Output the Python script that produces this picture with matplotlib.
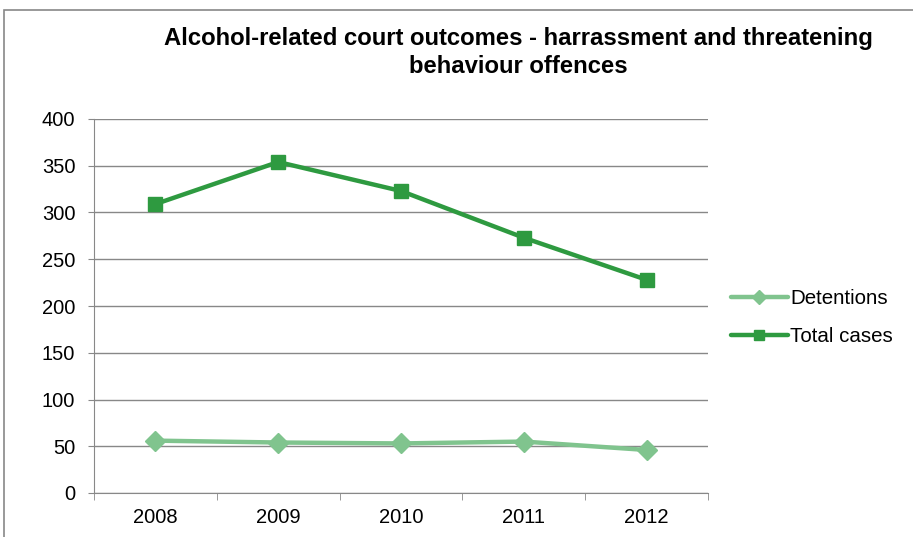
import matplotlib.pyplot as plt
import numpy as np
from matplotlib.patches import Rectangle

# Chart data
years = ['2008', '2009', '2010', '2011', '2012']
detentions = [56, 54, 53, 55, 46]
total_cases = [309, 354, 323, 273, 228]
y_ticks = [0, 50, 100, 150, 200, 250, 300, 350, 400]

plt.rcParams['font.family'] = ['Liberation Sans', 'DejaVu Sans']

fig = plt.figure(figsize=(9.13, 5.37), dpi=100)
ax = fig.add_axes([94/913, 44/537, 614/913, 374/537])

# outer chart border (cut off at right and bottom like the reference)
fig.patches.append(Rectangle((4/913, -0.05), 1.0, 527/537 + 0.05,
                             transform=fig.transFigure, fill=False,
                             edgecolor='#888888', linewidth=1.2))

x = np.arange(len(years))
ax.plot(x, detentions, color='#80C48E', linewidth=3.2, marker='D',
        markersize=10, label='Detentions', solid_capstyle='round')
ax.plot(x, total_cases, color='#2E9A40', linewidth=3.2, marker='s',
        markersize=9.5, label='Total cases', solid_capstyle='round')

ax.set_xlim(-0.5, len(years) - 0.5)
ax.set_ylim(0, 400)
ax.set_yticks(y_ticks)
ax.set_xticks(x)
ax.set_xticklabels(years)
ax.set_xticks(np.arange(-0.5, len(years)), minor=True)
ax.tick_params(axis='x', which='major', length=0, pad=11, labelsize=14.5)
ax.tick_params(axis='x', which='minor', length=5, color='#888888')
ax.tick_params(axis='y', length=4.5, color='#888888', labelsize=14.5, pad=9)

ax.grid(axis='y', color='#888888', linewidth=1)
ax.set_axisbelow(True)
for s in ['top', 'right']:
    ax.spines[s].set_visible(False)
for s in ['left', 'bottom']:
    ax.spines[s].set_color('#888888')

fig.text(518/913, 1 - 52.5/537, 'Alcohol-related court outcomes - harrassment and threatening\nbehaviour offences',
         ha='center', va='center', fontsize=17.2, fontweight='bold', linespacing=1.3)

fig.legend(*ax.get_legend_handles_labels(), loc='center left',
           bbox_to_anchor=(731/913, 1 - 317.5/537), frameon=False,
           fontsize=14.8, handlelength=2.75, handletextpad=0.12, labelspacing=0.95,
           markerscale=0.7, borderpad=0, borderaxespad=0)

fig.savefig('out.png', dpi=100)
